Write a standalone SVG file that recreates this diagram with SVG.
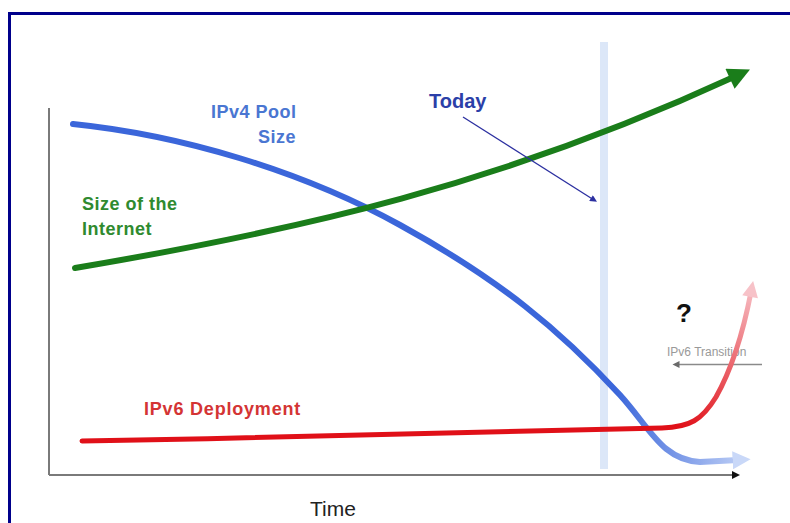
<svg xmlns="http://www.w3.org/2000/svg" width="790" height="523" viewBox="0 0 790 523">
  <style>
    .lbl { font-family: "Liberation Sans", Arial, sans-serif; font-weight: bold; }
    .curve { fill: none; stroke-linecap: round; stroke-linejoin: round; }
    .axis { fill: none; stroke: #7a7a7a; stroke-width: 2; }
  </style>
  <defs>
    <linearGradient id="gBlue" gradientUnits="userSpaceOnUse" x1="615" y1="0" x2="755" y2="0">
      <stop offset="0" stop-color="#3b66da"/>
      <stop offset="1" stop-color="#c9d8f8"/>
    </linearGradient>
    <linearGradient id="gRed" gradientUnits="userSpaceOnUse" x1="680" y1="428" x2="752" y2="282">
      <stop offset="0" stop-color="#e01018"/>
      <stop offset="1" stop-color="#f7c2c8"/>
    </linearGradient>
    <marker id="mGreen" viewBox="0 0 10 10" refX="3" refY="5" markerUnits="userSpaceOnUse" markerWidth="24" markerHeight="22" orient="auto">
      <path d="M0,0 L10,5 L0,10 z" fill="#1a7d1a"/>
    </marker>
    <marker id="mBlue" viewBox="0 0 10 10" refX="3" refY="5" markerUnits="userSpaceOnUse" markerWidth="18" markerHeight="18" orient="auto">
      <path d="M0,0 L10,5 L0,10 z" fill="#c9d8f8"/>
    </marker>
    <marker id="mRed" viewBox="0 0 10 10" refX="3" refY="5" markerUnits="userSpaceOnUse" markerWidth="18" markerHeight="16" orient="auto">
      <path d="M0,0 L10,5 L0,10 z" fill="#f7c2c8"/>
    </marker>
    <marker id="mAxis" viewBox="0 0 10 10" refX="5" refY="5" markerUnits="userSpaceOnUse" markerWidth="9" markerHeight="8" orient="auto">
      <path d="M0,0 L10,5 L0,10 z" fill="#111"/>
    </marker>
    <marker id="mToday" viewBox="0 0 10 10" refX="5" refY="5" markerUnits="userSpaceOnUse" markerWidth="8" markerHeight="7" orient="auto">
      <path d="M0,0 L10,5 L0,10 z" fill="#2b2fa0"/>
    </marker>
    <marker id="mGrey" viewBox="0 0 10 10" refX="5" refY="5" markerUnits="userSpaceOnUse" markerWidth="8" markerHeight="7" orient="auto">
      <path d="M0,0 L10,5 L0,10 z" fill="#6a6a6a"/>
    </marker>
  </defs>

  <rect x="0" y="0" width="790" height="523" fill="#ffffff"/>
  <!-- frame -->
  <path d="M9.5,523 V13.5 H790" fill="none" stroke="#00008b" stroke-width="3"/>

  <!-- today band -->
  <rect id="today-band" x="600" y="42" width="8" height="427" fill="#dce7f8"/>

  <!-- axes -->
  <g id="axes">
    <path class="axis" d="M49,108 V475"/>
    <path class="axis" d="M49,475 H736" marker-end="url(#mAxis)"/>
  </g>

  <g id="ipv6-transition">
    <text x="667" y="356" font-family="'Liberation Sans', Arial, sans-serif" font-size="12" fill="#999999">IPv6 Transition</text>
    <path d="M762,364.5 H676" stroke="#8a8a8a" stroke-width="1.5" fill="none" marker-end="url(#mGrey)"/>
  </g>

  <g id="connectors">
    <path id="ipv4-curve" class="curve" stroke="url(#gBlue)" stroke-width="6" d="M73,124 C180,135 300,170 400,225 C500,280 560,330 620,395 C650,428 662,460 700,462 L738,460" marker-end="url(#mBlue)"/>
    <path id="internet-curve" class="curve" stroke="#1a7d1a" stroke-width="6" d="M75,268 C300,230 500,185 736,76" marker-end="url(#mGreen)"/>
    <path id="ipv6-curve" class="curve" stroke="url(#gRed)" stroke-width="5" d="M82,441 C300,437 550,432 662,428 C690,427 702,420 716,397 C734,365 744,328 751,292" marker-end="url(#mRed)"/>
    <path id="today-arrow" d="M463,117 L594,200" stroke="#2b2fa0" stroke-width="1.3" fill="none" marker-end="url(#mToday)"/>
  </g>

  <g id="label-ipv4">
    <text class="lbl" x="211" y="118" font-size="18" letter-spacing="0.5" fill="#4a76d2">IPv4 Pool</text>
    <text class="lbl" x="296" y="143" font-size="18" letter-spacing="0.5" text-anchor="end" fill="#4a76d2">Size</text>
  </g>
  <g id="label-internet">
    <text class="lbl" x="82" y="210" font-size="18" letter-spacing="0.5" fill="#2f8a2f">Size of the</text>
    <text class="lbl" x="82" y="235" font-size="18" letter-spacing="0.5" fill="#2f8a2f">Internet</text>
  </g>
  <g id="label-ipv6">
    <text class="lbl" x="144" y="415" font-size="18" letter-spacing="0.8" fill="#d43434">IPv6 Deployment</text>
  </g>
  <g id="label-today">
    <text class="lbl" x="429" y="108" font-size="20" fill="#2b3fa8">Today</text>
  </g>
  <g id="label-question">
    <text class="lbl" x="676" y="322" font-size="26" fill="#111">?</text>
  </g>
  <g id="label-time">
    <text x="310" y="516" font-family="'Liberation Sans', Arial, sans-serif" font-size="21" fill="#222">Time</text>
  </g>
</svg>
